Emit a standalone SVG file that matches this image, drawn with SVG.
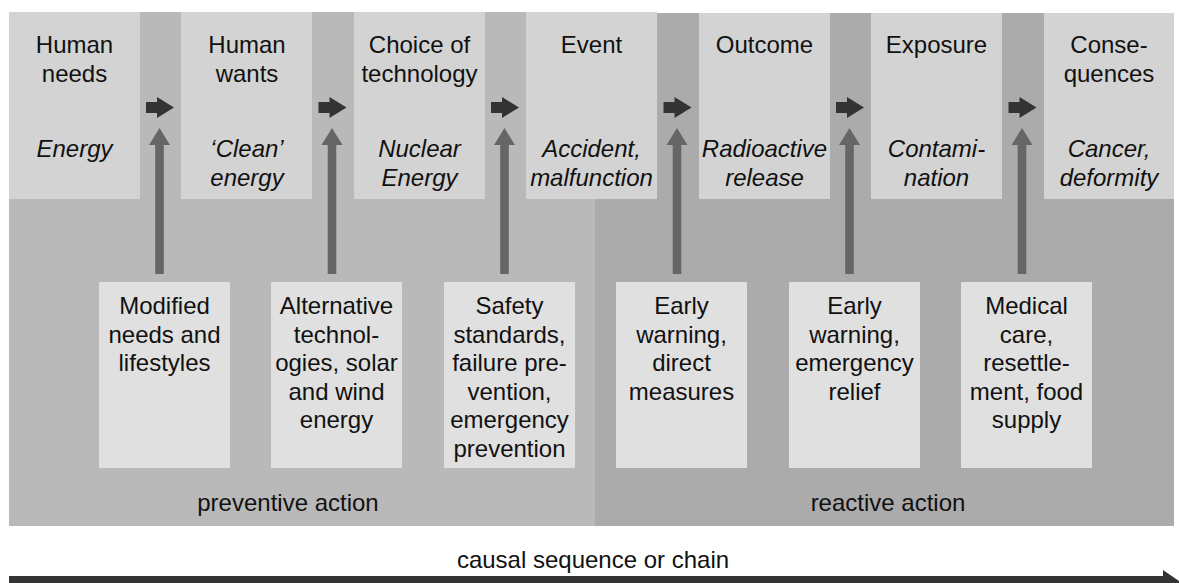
<svg xmlns="http://www.w3.org/2000/svg" width="1179" height="583" viewBox="0 0 1179 583">
  <style>
    text { font-family: "Liberation Sans", Arial, sans-serif; font-size: 24px; fill: #111; text-anchor: middle; }
    .it { font-style: italic; }
    .top { fill: #d3d3d3; }
    .low { fill: #e0e0e0; }
    .step { fill: #333; }
    .act { fill: #666; }
  </style>
  <defs>
    <!-- small step arrow between chain stages, origin at its left end -->
    <path id="step" d="M0,-5.5 H11 V-10.5 L28,0 L11,10.5 V5.5 H0 Z"/>
    <!-- upward intervention arrow, origin at its tip -->
    <path id="act" d="M0,0 L10.5,17 H4.3 V146 H-4.3 V17 H-10.5 Z"/>
  </defs>

  <!-- action zones -->
  <g id="zones">
    <rect x="9" y="12" width="586" height="514" fill="#b9b9b9"/>
    <rect x="595" y="13" width="579" height="513" fill="#ababab"/>
    <text x="288" y="511">preventive action</text>
    <text x="888" y="511">reactive action</text>
  </g>

  <!-- connectors -->
  <g id="connectors">
    <use href="#step" class="step" x="146" y="107.5"/>
    <use href="#step" class="step" x="318.5" y="107.5"/>
    <use href="#step" class="step" x="491" y="107.5"/>
    <use href="#step" class="step" x="663.5" y="107.5"/>
    <use href="#step" class="step" x="836" y="107.5"/>
    <use href="#step" class="step" x="1008.5" y="107.5"/>
    <use href="#act" class="act" x="159.5" y="128"/>
    <use href="#act" class="act" x="332" y="128"/>
    <use href="#act" class="act" x="504.5" y="128"/>
    <use href="#act" class="act" x="677" y="128"/>
    <use href="#act" class="act" x="849.5" y="128"/>
    <use href="#act" class="act" x="1022" y="128"/>
  </g>

  <!-- chain stages -->
  <g id="needs">
    <rect class="top" x="9" y="12" width="131" height="187"/>
    <text x="74.5" y="53">Human</text>
    <text x="74.5" y="82">needs</text>
    <text class="it" x="74.5" y="157">Energy</text>
  </g>
  <g id="wants">
    <rect class="top" x="181" y="12" width="131" height="187"/>
    <text x="247" y="53">Human</text>
    <text x="247" y="82">wants</text>
    <text class="it" x="247" y="157">‘Clean’</text>
    <text class="it" x="247" y="186">energy</text>
  </g>
  <g id="technology">
    <rect class="top" x="354" y="12" width="131" height="187"/>
    <text x="419.5" y="53">Choice of</text>
    <text x="419.5" y="82">technology</text>
    <text class="it" x="419.5" y="157">Nuclear</text>
    <text class="it" x="419.5" y="186">Energy</text>
  </g>
  <g id="event">
    <rect class="top" x="526" y="12" width="131" height="187"/>
    <text x="591.5" y="53">Event</text>
    <text class="it" x="591.5" y="157">Accident,</text>
    <text class="it" x="591.5" y="186">malfunction</text>
  </g>
  <g id="outcome">
    <rect class="top" x="699" y="13" width="131" height="186"/>
    <text x="764.5" y="53">Outcome</text>
    <text class="it" x="764.5" y="157">Radioactive</text>
    <text class="it" x="764.5" y="186">release</text>
  </g>
  <g id="exposure">
    <rect class="top" x="871" y="13" width="131" height="186"/>
    <text x="936.5" y="53">Exposure</text>
    <text class="it" x="936.5" y="157">Contami-</text>
    <text class="it" x="936.5" y="186">nation</text>
  </g>
  <g id="consequences">
    <rect class="top" x="1044" y="13" width="130" height="186"/>
    <text x="1109" y="53">Conse-</text>
    <text x="1109" y="82">quences</text>
    <text class="it" x="1109" y="157">Cancer,</text>
    <text class="it" x="1109" y="186">deformity</text>
  </g>

  <!-- interventions -->
  <g id="lifestyles">
    <rect class="low" x="99" y="282" width="131" height="186"/>
    <text x="164.5" y="314">Modified</text>
    <text x="164.5" y="342.6">needs and</text>
    <text x="164.5" y="371.2">lifestyles</text>
  </g>
  <g id="alternatives">
    <rect class="low" x="271" y="282" width="131" height="186"/>
    <text x="336.5" y="314">Alternative</text>
    <text x="336.5" y="342.6">technol-</text>
    <text x="336.5" y="371.2">ogies, solar</text>
    <text x="336.5" y="399.8">and wind</text>
    <text x="336.5" y="428.4">energy</text>
  </g>
  <g id="safety">
    <rect class="low" x="444" y="282" width="131" height="186"/>
    <text x="509.5" y="314">Safety</text>
    <text x="509.5" y="342.6">standards,</text>
    <text x="509.5" y="371.2">failure pre-</text>
    <text x="509.5" y="399.8">vention,</text>
    <text x="509.5" y="428.4">emergency</text>
    <text x="509.5" y="457">prevention</text>
  </g>
  <g id="direct-measures">
    <rect class="low" x="616" y="282" width="131" height="186"/>
    <text x="681.5" y="314">Early</text>
    <text x="681.5" y="342.6">warning,</text>
    <text x="681.5" y="371.2">direct</text>
    <text x="681.5" y="399.8">measures</text>
  </g>
  <g id="relief">
    <rect class="low" x="789" y="282" width="131" height="186"/>
    <text x="854.5" y="314">Early</text>
    <text x="854.5" y="342.6">warning,</text>
    <text x="854.5" y="371.2">emergency</text>
    <text x="854.5" y="399.8">relief</text>
  </g>
  <g id="care">
    <rect class="low" x="961" y="282" width="131" height="186"/>
    <text x="1026.5" y="314">Medical</text>
    <text x="1026.5" y="342.6">care,</text>
    <text x="1026.5" y="371.2">resettle-</text>
    <text x="1026.5" y="399.8">ment, food</text>
    <text x="1026.5" y="428.4">supply</text>
  </g>

  <!-- causal chain axis -->
  <g id="causal-axis">
    <text x="593" y="568">causal sequence or chain</text>
    <path class="step" d="M9,576 H1163 V570 L1182,583 L1163,596 V590 H9 Z"/>
  </g>
</svg>
